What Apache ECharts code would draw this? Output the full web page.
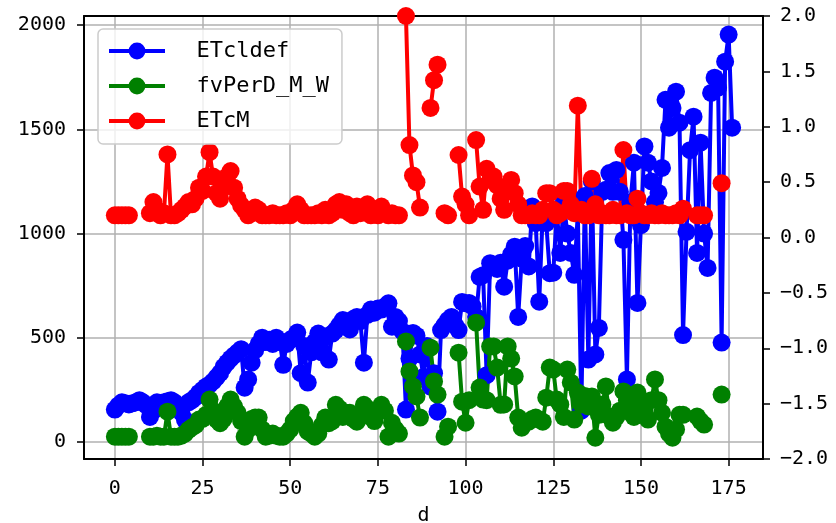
<!DOCTYPE html>
<html>
<head>
<meta charset="utf-8">
<script src="https://cdn.jsdelivr.net/npm/echarts@6/dist/echarts.min.js"></script>
<style>
html, body { margin: 0; padding: 0; background: #fff; }
#chart { width: 836px; height: 523px; }
</style>
</head>
<body>
<div id="chart"></div>
<script>
// tick labels
const xTicks = [0, 25, 50, 75, 100, 125, 150, 175]
const leftTicks = [0, 500, 1000, 1500, 2000]

// one value per day d = 0..176, null = no reading
const ETcldef = [
    155, 175, 190, 185, 180, 185, 190, 200, 190, 175, 120, 150, 190, 185, 190, 195, 200, 190, 170, 140, 105,
    190, 200, 215, 235, 250, 265, 275, 290, 310, 330, 360, 380, 400, 415, 430, 445, 260, 300, 380, 440,
    470, 500, 480, 490, 470, 500, 480, 370, 470, 490, 500, 525, 330, 460, 285, 430, 480, 520, 430, 505,
    395, 520, 537, 560, 585, 570, 540, 590, 600, 580, 380, 610, 635, 620, 640, 635, 650, 665, 553, 600,
    580, 530, 155, 400, 523, 510, 420, 312, 460, 265, 330, 145, 537, 560, 585, 600, 560, 537, 672, 665,
    667, 650, 600, 792, 800, 320, 858, 850, 830, 860, 745, 870, 900, 937, 600, 880, 940, 842, 1130, 1050,
    673, 1100, 1050, 810, 812, 1100, 907, 1150, 1000, 907, 802, 1100, 150, 1180, 395, 1250, 420, 547, 1200, 1210,
    1290, 1200, 1305, 1200, 970, 300, 1150, 1340, 667, 1040, 1418, 1340, 1250, 1150, 1195, 1315, 1642, 1508, 1603, 1681,
    1532, 513, 1008, 1400, 1561, 907, 1436, 1000, 835, 1675, 1748, 1700, 477, 1825, 1955, 1508
]
const fvPerD_M_W = [
    25, 25, 25, 25, 25, null, null, null, null, null, 25, 25, 30, 25, 25, 145, 25, 25, 25, 30, 40,
    58, 70, 80, 107, 110, 130, 203, 150, 107, 90, 110, 170, 203, 170, 140, 100, 25, 60, 110, 117,
    117, 60, 25, 30, 40, 30, 25, 25, 40, 60, 100, 122, 140, 90, 50, 40, 25, 40, 80, 117,
    90, 100, 178, 160, 120, 140, 140, 110, 97, 120, 178, 160, 120, 100, 150, 178, 150, 25, 92, 60,
    40, null, 482, 338, 266, 218, 117, null, null, 452, 290, 227, null, 25, 73, null, null, 428, 193, 92,
    200, null, 572, 261, 203, 200, 458, 458, 357, 178, 180, 458, 400, 314, 117, 68, 97, 97, 110, 117,
    107, 97, 212, 357, 347, 203, 180, 120, 347, 285, 107, 237, 180, 220, 170, 218, 20, 130, 180, 266,
    122, 92, 120, 150, 242, 200, 140, 120, 237, 200, 155, 107, 200, 300, 200, 140, 73, 40, 20, 60,
    130, 130, null, null, null, 122, 100, 83, null, null, null, null, 227, null, null, null
]
const ETcM = [
    0.2, 0.2, 0.2, 0.2, 0.2, null, null, null, null, null, 0.22, 0.32, 0.25, 0.2, 0.22, 0.75, 0.2, 0.2, 0.22, 0.25, 0.28,
    0.32, 0.3, 0.35, 0.45, 0.42, 0.55, 0.77, 0.55, 0.4, 0.35, 0.45, 0.55, 0.6, 0.45, 0.35, 0.29, 0.25, 0.2, 0.22, 0.27,
    0.25, 0.2, 0.2, 0.2, 0.22, 0.2, 0.2, 0.2, 0.22, 0.2, 0.25, 0.3, 0.25, 0.2, 0.2, 0.2, 0.2, 0.22, 0.2, 0.25,
    0.2, 0.22, 0.3, 0.32, 0.25, 0.3, 0.22, 0.2, 0.28, 0.22, 0.25, 0.3, 0.2, 0.25, 0.2, 0.28, 0.22, 0.2, 0.22, 0.2,
    0.2, null, 2.0, 0.835, 0.56, 0.5, 0.27, null, null, 1.17, 1.42, 1.56, null, 0.22, 0.2, null, null, 0.745, 0.37, 0.3,
    0.2, null, 0.88, 0.46, 0.25, 0.62, 0.52, 0.55, 0.47, 0.35, 0.25, 0.45, 0.52, 0.4, 0.3, 0.2, 0.2, 0.2, 0.22, 0.2,
    0.2, 0.25, 0.4, 0.4, 0.25, 0.2, 0.22, 0.42, 0.42, 0.3, 0.22, 1.19, 0.25, 0.2, 0.2, 0.53, 0.3, 0.2, 0.22, 0.2,
    0.2, 0.25, 0.2, 0.2, 0.79, 0.22, 0.2, 0.2, 0.35, 0.22, 0.2, 0.2, 0.22, 0.2, 0.2, 0.22, 0.2, 0.2, 0.2, 0.22,
    0.2, 0.26, null, null, null, 0.2, 0.2, 0.2, null, null, null, null, 0.49, null, null, null
]

const toPoints = arr => arr.map((v, d) => [d, v === null ? '-' : v])

const tickFont = { fontFamily: 'DejaVu Sans Mono', fontSize: 20, color: '#000' }
const spine = { show: true, onZero: false, lineStyle: { color: '#000', width: 2 } }
const noSpine = { show: false, onZero: false }
const tick = { show: true, length: 7, lineStyle: { color: '#000', width: 1.5 } }
const grid = { show: true, showMinLine: false, showMaxLine: false, lineStyle: { color: '#b0b0b0', width: 1.5 } }
const xRange = { type: 'value', min: -8.8, max: 184.8 }
const leftRange = { type: 'value', min: -82, max: 2044 }

const myChart = echarts.init(document.getElementById('chart'))
const lineSeries = (name, data, color, yAxisIndex) => ({
    name,
    type: 'line',
    data: toPoints(data),
    yAxisIndex,
    symbol: 'circle',
    symbolSize: 18,
    showAllSymbol: true,
    connectNulls: false,
    itemStyle: { color },
    lineStyle: { color, width: 4 },
    emphasis: { disabled: true }
})

myChart.setOption({
    animation: false,
    grid: { left: 84, right: 73, top: 16, bottom: 64, outerBoundsMode: 'none', containLabel: false },
    legend: {
        orient: 'vertical',
        left: 98,
        top: 29,
        padding: [11, 13, 12, 9],
        itemWidth: 56,
        itemHeight: 21,
        itemGap: 13,
        backgroundColor: 'rgba(255,255,255,0.8)',
        borderColor: '#cccccc',
        borderWidth: 1.5,
        borderRadius: 5,
        lineStyle: { width: 4 },
        formatter: name => '  ' + name,
        textStyle: { fontFamily: 'DejaVu Sans Mono', fontSize: 22, color: '#000' },
        data: ['ETcldef', 'fvPerD_M_W', 'ETcM']
    },
    xAxis: [
        {
            // data axis: grid lines every 25
            ...xRange,
            position: 'bottom',
            minInterval: 25,
            maxInterval: 25,
            name: 'd',
            nameLocation: 'middle',
            nameGap: 47,
            nameTextStyle: { fontFamily: 'DejaVu Sans Mono', fontSize: 20, color: '#000' },
            axisLine: spine,
            axisTick: { show: false },
            axisLabel: { show: false },
            splitLine: grid
        },
        {
            // top frame line
            ...xRange,
            position: 'top',
            axisLine: spine,
            axisTick: { show: false },
            axisLabel: { show: false },
            splitLine: { show: false }
        },
        {
            // ticks and labels
            ...xRange,
            position: 'bottom',
            axisLine: noSpine,
            axisTick: { ...tick, customValues: xTicks },
            axisLabel: { ...tickFont, margin: 20, customValues: xTicks, formatter: v => String(v) },
            splitLine: { show: false }
        }
    ],
    yAxis: [
        {
            ...leftRange,
            position: 'left',
            minInterval: 500,
            maxInterval: 500,
            axisLine: spine,
            axisTick: { show: false },
            axisLabel: { show: false },
            splitLine: grid
        },
        {
            type: 'value',
            position: 'right',
            min: -2,
            max: 2,
            interval: 0.5,
            axisLine: spine,
            axisTick: tick,
            axisLabel: {
                ...tickFont,
                margin: 17,
                formatter: v => (v < 0 ? '\u2212' : '') + Math.abs(v).toFixed(1)
            },
            splitLine: { show: false }
        },
        {
            ...leftRange,
            position: 'left',
            axisLine: noSpine,
            axisTick: { ...tick, customValues: leftTicks },
            axisLabel: { ...tickFont, margin: 18, customValues: leftTicks, formatter: v => String(v) },
            splitLine: { show: false }
        }
    ],
    series: [
        lineSeries('ETcldef', ETcldef, '#0000ff', 0),
        lineSeries('fvPerD_M_W', fvPerD_M_W, '#008000', 0),
        lineSeries('ETcM', ETcM, '#ff0000', 1)
    ]
})
</script>
</body>
</html>
